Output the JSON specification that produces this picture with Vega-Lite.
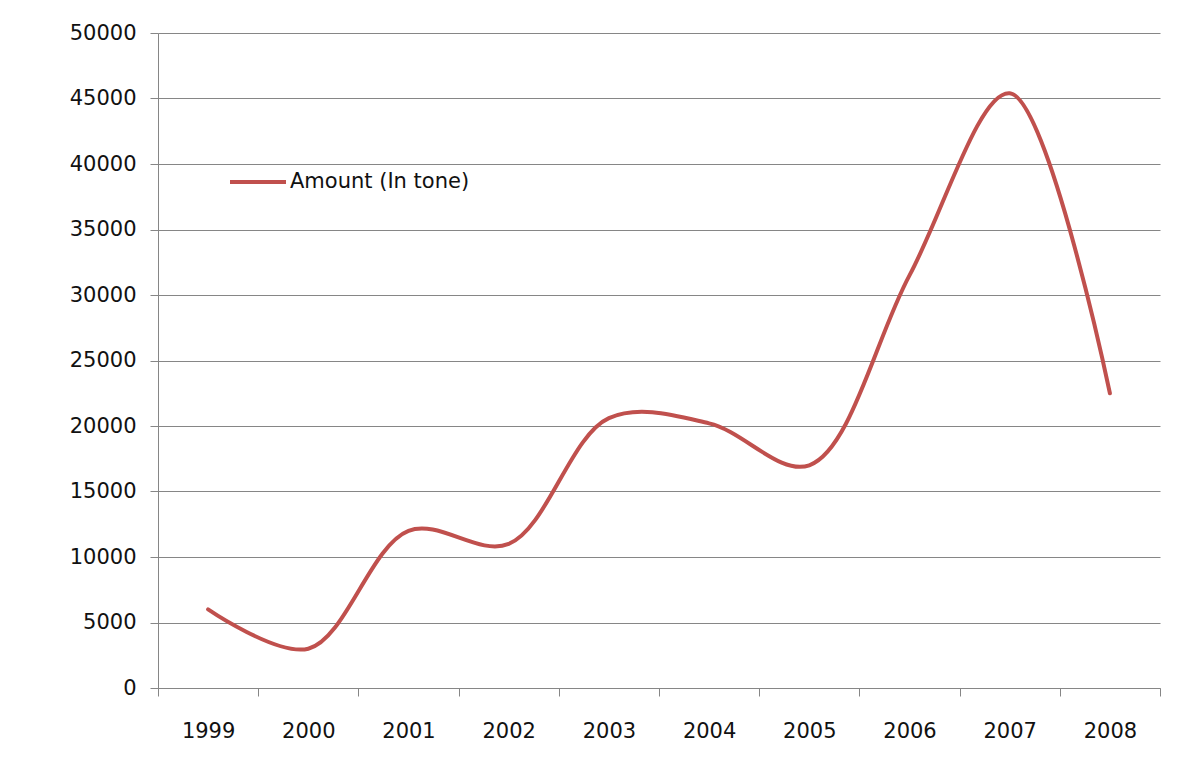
{
  "$schema": "https://vega.github.io/schema/vega-lite/v6.json",
  "autosize": {"type": "none"},
  "padding": {"left": 158, "top": 33, "right": 44, "bottom": 80},
  "width": 1002,
  "height": 655,
  "background": "white",
  "data": {"values": [
    {"year": "1999", "amount": 6000, "series": "Amount (In tone)"},
    {"year": "2000", "amount": 3000, "series": "Amount (In tone)"},
    {"year": "2001", "amount": 12000, "series": "Amount (In tone)"},
    {"year": "2002", "amount": 11000, "series": "Amount (In tone)"},
    {"year": "2003", "amount": 20600, "series": "Amount (In tone)"},
    {"year": "2004", "amount": 20200, "series": "Amount (In tone)"},
    {"year": "2005", "amount": 17000, "series": "Amount (In tone)"},
    {"year": "2006", "amount": 31500, "series": "Amount (In tone)"},
    {"year": "2007", "amount": 45400, "series": "Amount (In tone)"},
    {"year": "2008", "amount": 22500, "series": "Amount (In tone)"}
  ]},
  "mark": {"type": "line", "interpolate": "catmull-rom", "strokeWidth": 4, "strokeCap": "round"},
  "encoding": {
    "x": {
      "field": "year", "type": "ordinal",
      "scale": {"paddingInner": 0, "paddingOuter": 0},
      "axis": {
        "title": null, "labelAngle": 0, "tickBand": "extent", "grid": false,
        "domainColor": "#868686", "tickColor": "#868686", "tickSize": 8,
        "labelFont": "DejaVu Sans", "labelFontSize": 21, "labelColor": "#111111",
        "labelPadding": 24
      }
    },
    "y": {
      "field": "amount", "type": "quantitative",
      "scale": {"domain": [0, 50000], "nice": false},
      "axis": {
        "title": null, "values": [0, 5000, 10000, 15000, 20000, 25000, 30000, 35000, 40000, 45000, 50000],
        "format": "d", "grid": true, "gridColor": "#868686", "gridWidth": 1, "gridOpacity": 1,
        "domainColor": "#868686", "tickColor": "#868686", "tickSize": 8,
        "labelFont": "DejaVu Sans", "labelFontSize": 21, "labelColor": "#111111",
        "labelPadding": 14
      }
    },
    "color": {
      "field": "series", "type": "nominal",
      "scale": {"range": ["#C0504D"]},
      "legend": {
        "title": null, "orient": "none", "legendX": 70, "legendY": 119,
        "symbolType": "stroke", "symbolSize": 3136, "symbolStrokeWidth": 4,
        "labelFont": "DejaVu Sans", "labelFontSize": 21, "labelColor": "#111111",
        "labelOffset": 2, "labelLimit": 400
      }
    }
  },
  "config": {"view": {"stroke": null}}
}
